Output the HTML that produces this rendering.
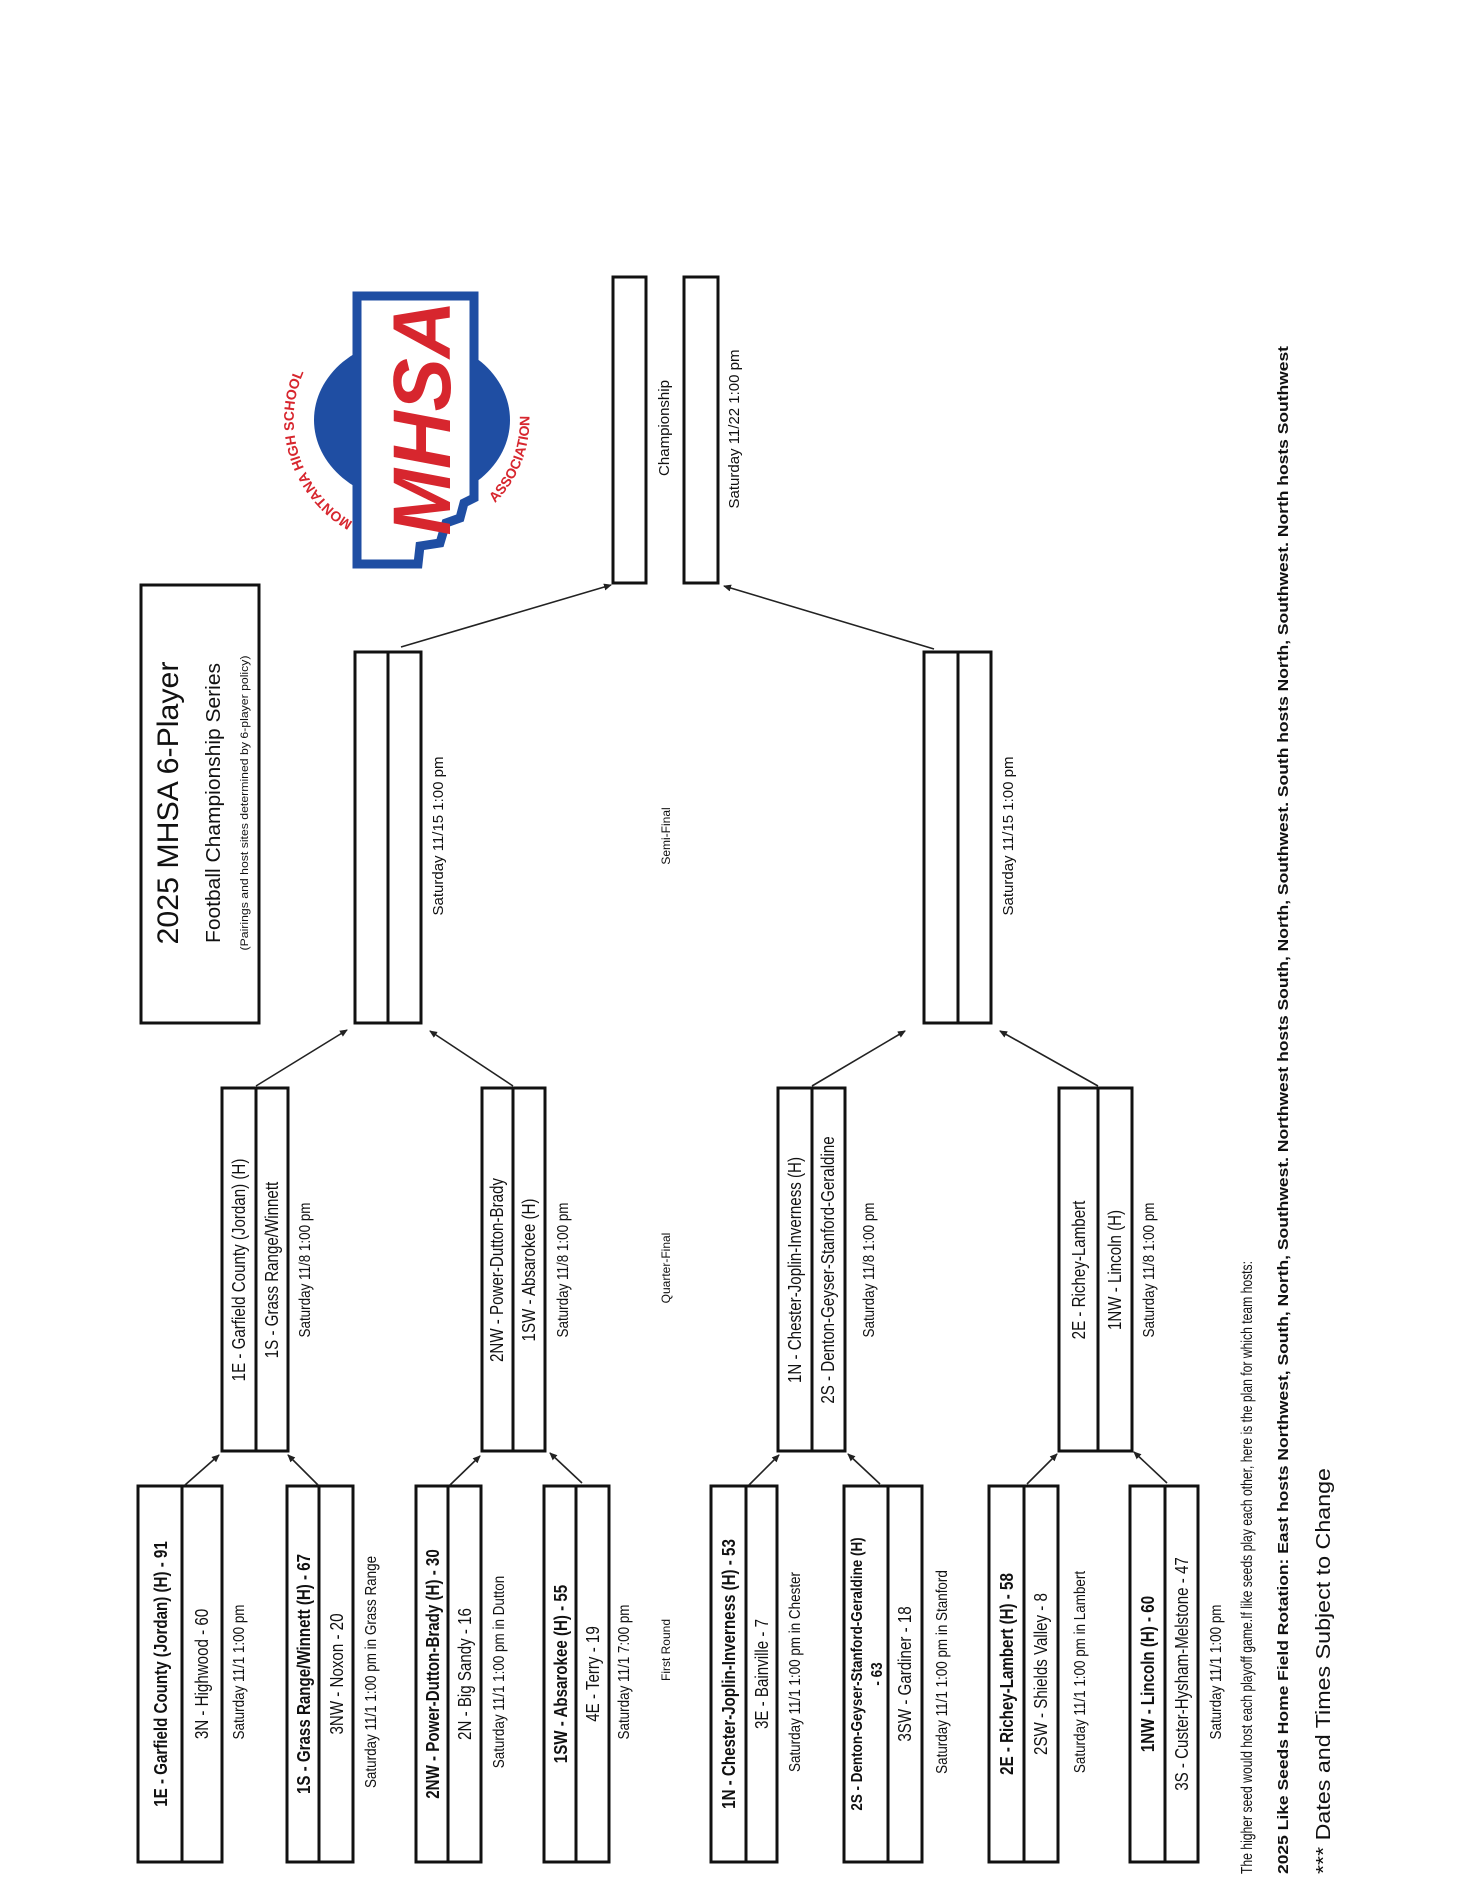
<!DOCTYPE html>
<html><head><meta charset="utf-8"><style>
html,body{margin:0;padding:0;background:#fff;}
svg{display:block;}
text{font-family:"Liberation Sans",Arial,sans-serif;fill:#111;}
</style></head><body>
<svg width="1468" height="1900" viewBox="0 0 1468 1900" xmlns="http://www.w3.org/2000/svg">
<defs>
<marker id="ah" markerWidth="8" markerHeight="8" refX="7" refY="4" orient="auto" markerUnits="userSpaceOnUse"><path d="M0,0.5 L8,4 L0,7.5 Z" fill="#222"/></marker>
</defs>
<g fill="none" stroke="#111" stroke-width="3">
<rect x="141" y="585" width="118" height="438"/>
<rect x="613" y="277" width="33" height="306"/>
<rect x="684" y="277" width="34" height="306"/>
<rect x="355" y="652" width="66" height="371"/><line x1="388" y1="652" x2="388" y2="1023"/>
<rect x="924" y="652" width="67" height="371"/><line x1="958" y1="652" x2="958" y2="1023"/>
<rect x="222" y="1088" width="66" height="363"/><line x1="256" y1="1088" x2="256" y2="1451"/>
<rect x="482" y="1088" width="63" height="363"/><line x1="513" y1="1088" x2="513" y2="1451"/>
<rect x="778" y="1088" width="67" height="363"/><line x1="812" y1="1088" x2="812" y2="1451"/>
<rect x="1059" y="1088" width="73" height="363"/><line x1="1098" y1="1088" x2="1098" y2="1451"/>
<rect x="138" y="1486" width="84" height="376"/><line x1="182" y1="1486" x2="182" y2="1862"/>
<rect x="287" y="1486" width="66" height="376"/><line x1="319" y1="1486" x2="319" y2="1862"/>
<rect x="416" y="1486" width="65" height="376"/><line x1="448" y1="1486" x2="448" y2="1862"/>
<rect x="544" y="1486" width="65" height="376"/><line x1="576" y1="1486" x2="576" y2="1862"/>
<rect x="711" y="1486" width="66" height="376"/><line x1="746" y1="1486" x2="746" y2="1862"/>
<rect x="844" y="1486" width="78" height="376"/><line x1="888" y1="1486" x2="888" y2="1862"/>
<rect x="989" y="1486" width="69" height="376"/><line x1="1024" y1="1486" x2="1024" y2="1862"/>
<rect x="1130" y="1486" width="68" height="376"/><line x1="1165" y1="1486" x2="1165" y2="1862"/>
</g>
<g stroke="#222" stroke-width="1.6" marker-end="url(#ah)">
<line x1="185" y1="1485" x2="219" y2="1455"/>
<line x1="318" y1="1485" x2="288" y2="1455"/>
<line x1="450" y1="1485" x2="480" y2="1456"/>
<line x1="582" y1="1483" x2="550" y2="1453"/>
<line x1="749" y1="1485" x2="779" y2="1455"/>
<line x1="880" y1="1484" x2="848" y2="1454"/>
<line x1="1027" y1="1484" x2="1057" y2="1454"/>
<line x1="1167" y1="1483" x2="1134" y2="1452"/>
<line x1="256" y1="1086" x2="347" y2="1030"/>
<line x1="513" y1="1086" x2="430" y2="1031"/>
<line x1="812" y1="1086" x2="905" y2="1031"/>
<line x1="1098" y1="1086" x2="1000" y2="1031"/>
<line x1="401" y1="647" x2="611" y2="585"/>
<line x1="934" y1="649" x2="724" y2="586"/>
</g>

<g>
<ellipse cx="412" cy="420" rx="98" ry="82" fill="#1f4ea3"/>
<path d="M357,296 L474,296 L474,498 L464,503 L460,518 L446,523 L440,543 L420,546 L418,564 L357,564 Z" fill="#fff" stroke="#1f4ea3" stroke-width="9"/>
<text transform="translate(450,418) rotate(-90)" text-anchor="middle" font-size="82" font-weight="bold" font-style="italic" style="fill:#d7262e" textLength="235" lengthAdjust="spacingAndGlyphs">MHSA</text>
<path id="arcL" d="M353,522 A118,118 0 0 1 344,323" fill="none"/>
<path id="arcR" d="M495,503 A118,118 0 0 0 502,344" fill="none"/>
<text font-size="14" font-weight="bold" style="fill:#d7262e"><textPath href="#arcL">MONTANA HIGH SCHOOL</textPath></text>
<text font-size="14" font-weight="bold" style="fill:#d7262e"><textPath href="#arcR">ASSOCIATION</textPath></text>
</g>

<text transform="translate(178,803) rotate(-90)" text-anchor="middle" font-size="30" textLength="283" lengthAdjust="spacingAndGlyphs">2025 MHSA 6-Player</text>
<text transform="translate(220,803) rotate(-90)" text-anchor="middle" font-size="20" textLength="280" lengthAdjust="spacingAndGlyphs">Football Championship Series</text>
<text transform="translate(248,803) rotate(-90)" text-anchor="middle" font-size="11" textLength="295" lengthAdjust="spacingAndGlyphs">(Pairings and host sites determined by 6-player policy)</text>

<text transform="translate(669,428) rotate(-90)" text-anchor="middle" font-size="15">Championship</text>
<text transform="translate(739,429) rotate(-90)" text-anchor="middle" font-size="15">Saturday 11/22 1:00 pm</text>
<text transform="translate(443,836) rotate(-90)" text-anchor="middle" font-size="15">Saturday 11/15 1:00 pm</text>
<text transform="translate(1013,836) rotate(-90)" text-anchor="middle" font-size="15">Saturday 11/15 1:00 pm</text>
<text transform="translate(670,836) rotate(-90)" text-anchor="middle" font-size="12">Semi-Final</text>
<text transform="translate(670,1268) rotate(-90)" text-anchor="middle" font-size="12">Quarter-Final</text>
<text transform="translate(670,1650) rotate(-90)" text-anchor="middle" font-size="12">First Round</text>

<g font-size="18">
<text class="c" transform="translate(245,1270) rotate(-90)" text-anchor="middle">1E - Garfield County (Jordan) (H)</text>
<text class="c" transform="translate(278,1270) rotate(-90)" text-anchor="middle">1S - Grass Range/Winnett</text>
<text class="c" transform="translate(503,1270) rotate(-90)" text-anchor="middle">2NW - Power-Dutton-Brady</text>
<text class="c" transform="translate(535,1270) rotate(-90)" text-anchor="middle">1SW - Absarokee (H)</text>
<text class="c" transform="translate(801,1270) rotate(-90)" text-anchor="middle">1N - Chester-Joplin-Inverness (H)</text>
<text class="c" transform="translate(834,1270) rotate(-90)" text-anchor="middle">2S - Denton-Geyser-Stanford-Geraldine</text>
<text class="c" transform="translate(1085,1270) rotate(-90)" text-anchor="middle">2E - Richey-Lambert</text>
<text class="c" transform="translate(1121,1270) rotate(-90)" text-anchor="middle">1NW - Lincoln (H)</text>
<text class="c" transform="translate(167,1674) rotate(-90)" text-anchor="middle" font-weight="bold">1E - Garfield County (Jordan) (H) - 91</text>
<text class="c" transform="translate(208,1674) rotate(-90)" text-anchor="middle">3N - Highwood - 60</text>
<text class="c" transform="translate(310,1674) rotate(-90)" text-anchor="middle" font-weight="bold">1S - Grass Range/Winnett (H) - 67</text>
<text class="c" transform="translate(343,1674) rotate(-90)" text-anchor="middle">3NW - Noxon - 20</text>
<text class="c" transform="translate(439,1674) rotate(-90)" text-anchor="middle" font-weight="bold">2NW - Power-Dutton-Brady (H) - 30</text>
<text class="c" transform="translate(471,1674) rotate(-90)" text-anchor="middle">2N - Big Sandy - 16</text>
<text class="c" transform="translate(567,1674) rotate(-90)" text-anchor="middle" font-weight="bold">1SW - Absarokee (H) - 55</text>
<text class="c" transform="translate(599,1674) rotate(-90)" text-anchor="middle">4E - Terry - 19</text>
<text class="c" transform="translate(735,1674) rotate(-90)" text-anchor="middle" font-weight="bold">1N - Chester-Joplin-Inverness (H) - 53</text>
<text class="c" transform="translate(768,1674) rotate(-90)" text-anchor="middle">3E - Bainville - 7</text>
<text class="c" transform="translate(862,1674) rotate(-90)" text-anchor="middle" font-weight="bold" font-size="16">2S - Denton-Geyser-Stanford-Geraldine (H)</text>
<text class="c" transform="translate(882,1674) rotate(-90)" text-anchor="middle" font-weight="bold" font-size="16">- 63</text>
<text class="c" transform="translate(911,1674) rotate(-90)" text-anchor="middle">3SW - Gardiner - 18</text>
<text class="c" transform="translate(1013,1674) rotate(-90)" text-anchor="middle" font-weight="bold">2E - Richey-Lambert (H) - 58</text>
<text class="c" transform="translate(1047,1674) rotate(-90)" text-anchor="middle">2SW - Shields Valley - 8</text>
<text class="c" transform="translate(1154,1674) rotate(-90)" text-anchor="middle" font-weight="bold">1NW - Lincoln (H) - 60</text>
<text class="c" transform="translate(1188,1674) rotate(-90)" text-anchor="middle">3S - Custer-Hysham-Melstone - 47</text>
</g>
<g font-size="16">
<text class="c" transform="translate(310,1270) rotate(-90)" text-anchor="middle">Saturday 11/8 1:00 pm</text>
<text class="c" transform="translate(568,1270) rotate(-90)" text-anchor="middle">Saturday 11/8 1:00 pm</text>
<text class="c" transform="translate(874,1270) rotate(-90)" text-anchor="middle">Saturday 11/8 1:00 pm</text>
<text class="c" transform="translate(1154,1270) rotate(-90)" text-anchor="middle">Saturday 11/8 1:00 pm</text>
<text class="c" transform="translate(244,1672) rotate(-90)" text-anchor="middle">Saturday 11/1 1:00 pm</text>
<text class="c" transform="translate(376,1672) rotate(-90)" text-anchor="middle">Saturday 11/1 1:00 pm in Grass Range</text>
<text class="c" transform="translate(504,1672) rotate(-90)" text-anchor="middle">Saturday 11/1 1:00 pm in Dutton</text>
<text class="c" transform="translate(629,1672) rotate(-90)" text-anchor="middle">Saturday 11/1 7:00 pm</text>
<text class="c" transform="translate(800,1672) rotate(-90)" text-anchor="middle">Saturday 11/1 1:00 pm in Chester</text>
<text class="c" transform="translate(947,1672) rotate(-90)" text-anchor="middle">Saturday 11/1 1:00 pm in Stanford</text>
<text class="c" transform="translate(1085,1672) rotate(-90)" text-anchor="middle">Saturday 11/1 1:00 pm in Lambert</text>
<text class="c" transform="translate(1221,1672) rotate(-90)" text-anchor="middle">Saturday 11/1 1:00 pm</text>
</g>

<text transform="translate(1252,1874) rotate(-90)" font-size="16" textLength="613" lengthAdjust="spacingAndGlyphs">The higher seed would host each playoff game.If like seeds play each other, here is the plan for which team hosts:</text>
<text transform="translate(1288,1874) rotate(-90)" font-size="15" font-weight="bold" textLength="1528" lengthAdjust="spacingAndGlyphs">2025 Like Seeds Home Field Rotation: East hosts Northwest, South, North, Southwest. Northwest hosts South, North, Southwest. South hosts North, Southwest.  North hosts Southwest</text>
<text transform="translate(1330,1874) rotate(-90)" font-size="20" textLength="406" lengthAdjust="spacingAndGlyphs">*** Dates  and Times Subject to Change</text>
</svg>
<script>
document.querySelectorAll('text.c').forEach(function(t){
  var l=t.getComputedTextLength();
  t.setAttribute('textLength',(l*0.84).toFixed(1));
  t.setAttribute('lengthAdjust','spacingAndGlyphs');
});
</script>
</body></html>
